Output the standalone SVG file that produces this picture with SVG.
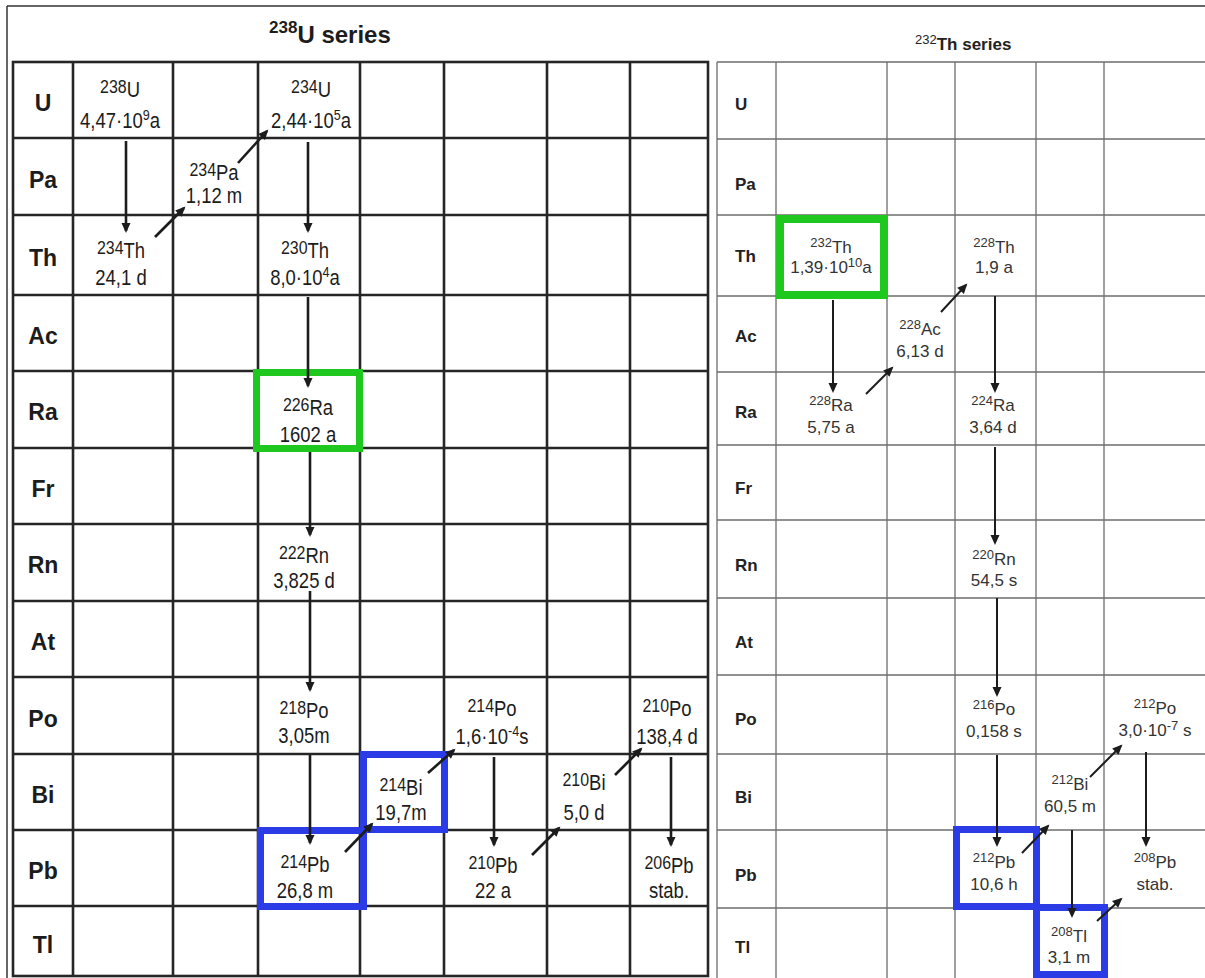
<svg xmlns="http://www.w3.org/2000/svg" width="1205" height="978" viewBox="0 0 1205 978">
<style>
.bg{fill:#fff}
.gl{stroke:#262626;stroke-width:2.6;fill:none}
.gr{stroke:#6e6e6e;stroke-width:1.3;fill:none}
.fr{stroke:#333;stroke-width:1.5;fill:none}
.ll{font-family:"Liberation Sans",Arial,sans-serif;font-weight:bold;font-size:23px;fill:#1c1c1c;text-anchor:middle}
.lr{font-family:"Liberation Sans",Arial,sans-serif;font-weight:bold;font-size:17px;fill:#222}
.nl{font-family:"Liberation Sans",Arial,sans-serif;font-size:22px;fill:#1c1c1c;text-anchor:middle}
.nr{font-family:"Liberation Sans",Arial,sans-serif;font-size:17px;fill:#333;text-anchor:middle}
.s16{font-size:19px}
.s13{font-size:15px}
.s12{font-size:13px}
.t1{font-family:"Liberation Sans",Arial,sans-serif;font-weight:bold;font-size:24px;fill:#1c1c1c}
.t2{font-family:"Liberation Sans",Arial,sans-serif;font-weight:bold;font-size:17px;fill:#222}
.al{stroke:#1c1c1c;stroke-width:2.6;fill:none;marker-end:url(#ahl)}
.ar{stroke:#1c1c1c;stroke-width:2;fill:none;marker-end:url(#ahr)}
.hg{stroke:#1ec81e;fill:none}
.hb{stroke:#2b3be6;fill:none}
</style>
<defs>
<marker id="ahl" viewBox="0 0 10 10" refX="8" refY="5" markerWidth="11" markerHeight="10" orient="auto" markerUnits="userSpaceOnUse"><path d="M0,0.5 L10,5 L0,9.5 z" fill="#1c1c1c"/></marker>
<marker id="ahr" viewBox="0 0 10 10" refX="8" refY="5" markerWidth="11" markerHeight="10" orient="auto" markerUnits="userSpaceOnUse"><path d="M0,0.5 L10,5 L0,9.5 z" fill="#1c1c1c"/></marker>
</defs>
<rect class="bg" x="0" y="0" width="1205" height="978"/>

<!-- frame -->
<g id="frame">
<line class="fr" x1="7" y1="6" x2="1205" y2="6"/>
<line class="fr" x1="7" y1="6" x2="7" y2="978"/>
</g>

<!-- titles -->
<g id="title-u238"><text class="t1" x="269" y="43"><tspan font-size="17px" dy="-10">238</tspan><tspan dy="10">U series</tspan></text></g>
<g id="title-th232"><text class="t2" x="915" y="50"><tspan font-size="13px" font-weight="normal" dy="-6">232</tspan><tspan dy="6">Th series</tspan></text></g>

<!-- left grid -->
<g id="grid-left">
<rect class="gl" x="13" y="62" width="695" height="914"/>
<path class="gl" d="M13,138H708M13,215H708M13,295H708M13,371H708M13,448H708M13,524H708M13,601H708M13,677H708M13,754H708M13,830H708M13,906H708"/>
<path class="gl" d="M73,62V976M173,62V976M258,62V976M360,62V976M444,62V976M547,62V976M630,62V976"/>
</g>

<!-- right grid -->
<g id="grid-right">
<path class="gr" d="M717,62H1205M717,139H1205M717,215H1205M717,296H1205M717,372H1205M717,445H1205M717,520H1205M717,598H1205M717,675H1205M717,754H1205M717,830H1205M717,908H1205"/>
<path class="gr" d="M717,62V978M776,62V978M887,62V978M955,62V978M1036,62V978M1104,62V978"/>
</g>

<!-- left row labels -->
<g id="rows-left">
<text class="ll" x="43" y="111">U</text>
<text class="ll" x="43" y="188">Pa</text>
<text class="ll" x="43" y="266">Th</text>
<text class="ll" x="43" y="344">Ac</text>
<text class="ll" x="43" y="420">Ra</text>
<text class="ll" x="43" y="497">Fr</text>
<text class="ll" x="43" y="573">Rn</text>
<text class="ll" x="43" y="650">At</text>
<text class="ll" x="43" y="727">Po</text>
<text class="ll" x="43" y="803">Bi</text>
<text class="ll" x="43" y="879">Pb</text>
<text class="ll" x="43" y="953">Tl</text>
</g>

<!-- right row labels -->
<g id="rows-right">
<text class="lr" x="735" y="110">U</text>
<text class="lr" x="735" y="190">Pa</text>
<text class="lr" x="735" y="262">Th</text>
<text class="lr" x="735" y="342">Ac</text>
<text class="lr" x="735" y="418">Ra</text>
<text class="lr" x="735" y="494">Fr</text>
<text class="lr" x="735" y="571">Rn</text>
<text class="lr" x="735" y="648">At</text>
<text class="lr" x="735" y="725">Po</text>
<text class="lr" x="735" y="803">Bi</text>
<text class="lr" x="735" y="881">Pb</text>
<text class="lr" x="735" y="953">Tl</text>
</g>

<!-- highlight boxes -->
<g id="highlights">
<rect class="hg" stroke-width="7" x="256.5" y="372.5" width="103" height="76"/>
<rect class="hb" stroke-width="7" x="260.5" y="830.5" width="103" height="76"/>
<rect class="hb" stroke-width="7" x="363.5" y="754.5" width="81" height="75"/>
<rect class="hg" stroke-width="8" x="780" y="219" width="104" height="76"/>
<rect class="hb" stroke-width="7" x="956.5" y="829.5" width="80" height="77"/>
<rect class="hb" stroke-width="7" x="1036.5" y="907.5" width="68" height="67"/>
</g>

<!-- connectors -->
<g id="connectors">
<line class="al" x1="126" y1="141" x2="126" y2="231"/>
<line class="al" x1="155" y1="237" x2="184" y2="208"/>
<line class="al" x1="238" y1="163" x2="267" y2="131"/>
<line class="al" x1="308" y1="142" x2="308" y2="231"/>
<line class="al" x1="308" y1="297" x2="308" y2="386"/>
<line class="al" x1="310" y1="452" x2="310" y2="535"/>
<line class="al" x1="310" y1="591" x2="310" y2="690"/>
<line class="al" x1="310" y1="755" x2="310" y2="843"/>
<line class="al" x1="345" y1="852" x2="372" y2="824"/>
<line class="al" x1="428" y1="773" x2="454" y2="750"/>
<line class="al" x1="494" y1="757" x2="494" y2="845"/>
<line class="al" x1="532" y1="855" x2="559" y2="828"/>
<line class="al" x1="615" y1="775" x2="641" y2="749"/>
<line class="al" x1="671" y1="757" x2="671" y2="845"/>

<line class="ar" x1="833" y1="300" x2="833" y2="391"/>
<line class="ar" x1="866" y1="394" x2="892" y2="368"/>
<line class="ar" x1="941" y1="312" x2="966" y2="285"/>
<line class="ar" x1="995" y1="296" x2="995" y2="391"/>
<line class="ar" x1="995" y1="447" x2="995" y2="543"/>
<line class="ar" x1="997" y1="598" x2="997" y2="695"/>
<line class="ar" x1="997" y1="755" x2="997" y2="845"/>
<line class="ar" x1="1022" y1="853" x2="1048" y2="826"/>
<line class="ar" x1="1090" y1="777" x2="1121" y2="746"/>
<line class="ar" x1="1146" y1="752" x2="1146" y2="845"/>
<line class="ar" x1="1072" y1="830" x2="1072" y2="916"/>
<line class="ar" x1="1097" y1="921" x2="1121" y2="899"/>
</g>

<!-- left nuclides -->
<g id="u238" transform="translate(120,0) scale(0.84,1)"><text class="nl" x="0" y="97"><tspan class="s16" dy="-4">238</tspan><tspan dy="4">U</tspan></text><text class="nl" x="0" y="128">4,47·10<tspan class="s13" dy="-8">9</tspan><tspan dy="8">a</tspan></text></g>
<g id="pa234" transform="translate(214,0) scale(0.84,1)"><text class="nl" x="0" y="180"><tspan class="s16" dy="-4">234</tspan><tspan dy="4">Pa</tspan></text><text class="nl" x="0" y="203">1,12 m</text></g>
<g id="u234" transform="translate(311,0) scale(0.84,1)"><text class="nl" x="0" y="97"><tspan class="s16" dy="-4">234</tspan><tspan dy="4">U</tspan></text><text class="nl" x="0" y="128">2,44·10<tspan class="s13" dy="-8">5</tspan><tspan dy="8">a</tspan></text></g>
<g id="th234" transform="translate(121,0) scale(0.84,1)"><text class="nl" x="0" y="258"><tspan class="s16" dy="-4">234</tspan><tspan dy="4">Th</tspan></text><text class="nl" x="0" y="285">24,1 d</text></g>
<g id="th230" transform="translate(305,0) scale(0.84,1)"><text class="nl" x="0" y="258"><tspan class="s16" dy="-4">230</tspan><tspan dy="4">Th</tspan></text><text class="nl" x="0" y="285">8,0·10<tspan class="s13" dy="-8">4</tspan><tspan dy="8">a</tspan></text></g>
<g id="ra226" transform="translate(308,0) scale(0.84,1)"><text class="nl" x="0" y="415"><tspan class="s16" dy="-4">226</tspan><tspan dy="4">Ra</tspan></text><text class="nl" x="0" y="442">1602 a</text></g>
<g id="rn222" transform="translate(304,0) scale(0.84,1)"><text class="nl" x="0" y="563"><tspan class="s16" dy="-4">222</tspan><tspan dy="4">Rn</tspan></text><text class="nl" x="0" y="588">3,825 d</text></g>
<g id="po218" transform="translate(304,0) scale(0.84,1)"><text class="nl" x="0" y="718"><tspan class="s16" dy="-4">218</tspan><tspan dy="4">Po</tspan></text><text class="nl" x="0" y="743">3,05m</text></g>
<g id="bi214" transform="translate(401,0) scale(0.84,1)"><text class="nl" x="0" y="795"><tspan class="s16" dy="-4">214</tspan><tspan dy="4">Bi</tspan></text><text class="nl" x="0" y="820">19,7m</text></g>
<g id="pb214" transform="translate(305,0) scale(0.84,1)"><text class="nl" x="0" y="872"><tspan class="s16" dy="-4">214</tspan><tspan dy="4">Pb</tspan></text><text class="nl" x="0" y="898">26,8 m</text></g>
<g id="po214" transform="translate(492,0) scale(0.84,1)"><text class="nl" x="0" y="716"><tspan class="s16" dy="-4">214</tspan><tspan dy="4">Po</tspan></text><text class="nl" x="0" y="744">1,6·10<tspan class="s13" dy="-8">-4</tspan><tspan dy="8">s</tspan></text></g>
<g id="po210" transform="translate(667,0) scale(0.84,1)"><text class="nl" x="0" y="716"><tspan class="s16" dy="-4">210</tspan><tspan dy="4">Po</tspan></text><text class="nl" x="0" y="744">138,4 d</text></g>
<g id="bi210" transform="translate(584,0) scale(0.84,1)"><text class="nl" x="0" y="790"><tspan class="s16" dy="-4">210</tspan><tspan dy="4">Bi</tspan></text><text class="nl" x="0" y="820">5,0 d</text></g>
<g id="pb210" transform="translate(493,0) scale(0.84,1)"><text class="nl" x="0" y="873"><tspan class="s16" dy="-4">210</tspan><tspan dy="4">Pb</tspan></text><text class="nl" x="0" y="898">22 a</text></g>
<g id="pb206" transform="translate(669,0) scale(0.84,1)"><text class="nl" x="0" y="873"><tspan class="s16" dy="-4">206</tspan><tspan dy="4">Pb</tspan></text><text class="nl" x="0" y="898">stab.</text></g>

<!-- right nuclides -->
<g id="th232"><text class="nr" x="831" y="253"><tspan class="s12" dy="-6">232</tspan><tspan dy="6">Th</tspan></text><text class="nr" x="831" y="273">1,39·10<tspan class="s12" dy="-6">10</tspan><tspan dy="6">a</tspan></text></g>
<g id="ra228"><text class="nr" x="831" y="411"><tspan class="s12" dy="-6">228</tspan><tspan dy="6">Ra</tspan></text><text class="nr" x="831" y="433">5,75 a</text></g>
<g id="ac228"><text class="nr" x="920" y="335"><tspan class="s12" dy="-6">228</tspan><tspan dy="6">Ac</tspan></text><text class="nr" x="920" y="357">6,13 d</text></g>
<g id="th228"><text class="nr" x="994" y="253"><tspan class="s12" dy="-6">228</tspan><tspan dy="6">Th</tspan></text><text class="nr" x="994" y="273">1,9 a</text></g>
<g id="ra224"><text class="nr" x="993" y="411"><tspan class="s12" dy="-6">224</tspan><tspan dy="6">Ra</tspan></text><text class="nr" x="993" y="433">3,64 d</text></g>
<g id="rn220"><text class="nr" x="994" y="565"><tspan class="s12" dy="-6">220</tspan><tspan dy="6">Rn</tspan></text><text class="nr" x="994" y="586">54,5 s</text></g>
<g id="po216"><text class="nr" x="994" y="715"><tspan class="s12" dy="-6">216</tspan><tspan dy="6">Po</tspan></text><text class="nr" x="994" y="737">0,158 s</text></g>
<g id="po212"><text class="nr" x="1155" y="714"><tspan class="s12" dy="-6">212</tspan><tspan dy="6">Po</tspan></text><text class="nr" x="1155" y="736">3,0·10<tspan class="s12" dy="-6">-7</tspan><tspan dy="6"> s</tspan></text></g>
<g id="bi212"><text class="nr" x="1070" y="790"><tspan class="s12" dy="-6">212</tspan><tspan dy="6">Bi</tspan></text><text class="nr" x="1070" y="812">60,5 m</text></g>
<g id="pb212"><text class="nr" x="994" y="868"><tspan class="s12" dy="-6">212</tspan><tspan dy="6">Pb</tspan></text><text class="nr" x="994" y="890">10,6 h</text></g>
<g id="pb208"><text class="nr" x="1155" y="868"><tspan class="s12" dy="-6">208</tspan><tspan dy="6">Pb</tspan></text><text class="nr" x="1155" y="890">stab.</text></g>
<g id="tl208"><text class="nr" x="1069" y="942"><tspan class="s12" dy="-6">208</tspan><tspan dy="6">Tl</tspan></text><text class="nr" x="1069" y="963">3,1 m</text></g>
</svg>
